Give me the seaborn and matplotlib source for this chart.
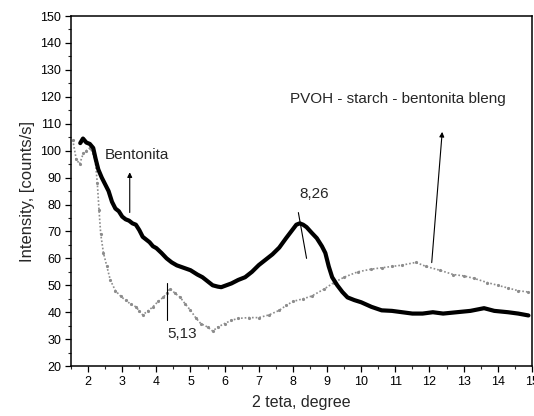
import numpy as np
import pandas as pd
import matplotlib
matplotlib.use('Agg')
import matplotlib.pyplot as plt
from matplotlib.ticker import MultipleLocator
import seaborn as sns

# ── data ─────────────────────────────────────────────────────
bent_x = [1.77, 1.85, 1.95, 2.05, 2.15, 2.22, 2.3, 2.4, 2.5, 2.6, 2.7, 2.8, 2.9,
          3.0, 3.1, 3.2, 3.3, 3.4, 3.5, 3.6, 3.7, 3.8, 3.9, 4.0, 4.15, 4.3, 4.45,
          4.6, 4.8, 5.0, 5.2, 5.35, 5.5, 5.65, 5.8, 5.9, 6.05, 6.2, 6.4, 6.6,
          6.8, 7.0, 7.2, 7.4, 7.6, 7.8, 7.95, 8.1, 8.2, 8.3, 8.4, 8.55, 8.7,
          8.85, 8.95, 9.05, 9.15, 9.3, 9.45, 9.6, 9.8, 10.0, 10.3, 10.6, 10.9,
          11.2, 11.5, 11.8, 12.1, 12.4, 12.8, 13.2, 13.6, 13.9, 14.3, 14.6, 14.9]
bent_y = [102.8, 104.5, 103.0, 102.5, 101.0, 97.0, 93.0, 90.0, 87.5, 85.0, 81.0,
          78.5, 77.5, 75.5, 74.5, 74.0, 73.0, 72.5, 70.5, 68.0, 67.0, 66.0, 64.5,
          63.8, 62.0, 60.0, 58.5, 57.4, 56.5, 55.6, 54.0, 53.0, 51.5, 50.0, 49.5,
          49.3, 50.0, 50.7, 52.0, 53.0, 55.0, 57.5, 59.5, 61.5, 64.0, 67.5, 70.0,
          72.5, 73.0, 72.5, 71.6, 69.5, 67.5, 64.5, 62.0, 57.0, 53.0, 50.0, 47.5,
          45.5, 44.5, 43.7, 42.0, 40.7, 40.5, 40.0, 39.5, 39.5, 40.0, 39.5, 40.0,
          40.5, 41.5, 40.5, 40.0, 39.5, 38.8]

blend_x = [1.55, 1.65, 1.75, 1.86, 1.95, 2.05, 2.15, 2.22, 2.27, 2.32, 2.37, 2.45,
           2.55, 2.65, 2.8, 2.95, 3.1, 3.25, 3.4, 3.5, 3.6, 3.75, 3.9, 4.05, 4.2,
           4.3, 4.4, 4.55, 4.7, 4.85, 5.0, 5.15, 5.3, 5.5, 5.65, 5.8, 6.0, 6.2,
           6.4, 6.7, 7.0, 7.3, 7.6, 7.8, 8.0, 8.3, 8.55, 8.9, 9.2, 9.5, 9.9,
           10.3, 10.6, 10.9, 11.2, 11.6, 11.9, 12.3, 12.7, 13.0, 13.3, 13.7,
           14.0, 14.3, 14.6, 14.9]
blend_y = [104.0, 97.0, 95.0, 99.0, 100.0, 101.0, 99.0, 95.0, 88.0, 78.0, 69.0,
           62.0, 57.0, 52.0, 48.0, 46.0, 44.4, 43.0, 42.0, 40.5, 39.0, 40.5, 42.0,
           44.0, 45.5, 47.0, 48.8, 47.0, 45.5, 43.0, 40.7, 38.0, 35.8, 34.5, 33.0,
           34.5, 35.8, 37.0, 37.7, 38.0, 38.0, 39.0, 40.7, 42.5, 44.0, 45.0, 46.0,
           48.5, 51.0, 53.0, 55.0, 56.0, 56.5, 57.0, 57.5, 58.5, 57.0, 55.6, 54.0,
           53.5, 52.6, 51.0, 50.0, 49.0, 48.0, 47.5]

sns.set_style('ticks')
plt.rcParams['font.family'] = ['Liberation Sans', 'DejaVu Sans']

fig = plt.figure(figsize=(5.34, 4.16), dpi=100)
ax = fig.add_axes([0.133, 0.120, 0.863, 0.8415])

df_bent = pd.DataFrame({'x': bent_x, 'y': bent_y})
df_blend = pd.DataFrame({'x': blend_x, 'y': blend_y})

sns.lineplot(data=df_blend, x='x', y='y', ax=ax, color='#8c8c8c', lw=1.2,
             linestyle=(0, (1, 1.2)), marker='.', markersize=3, mec='#8c8c8c',
             sort=False, estimator=None)
sns.lineplot(data=df_bent, x='x', y='y', ax=ax, color='black', lw=3.0,
             sort=False, estimator=None)

ax.set_xlim(1.5, 15)
ax.set_ylim(20, 150)
ax.xaxis.set_major_locator(MultipleLocator(1))
ax.xaxis.set_minor_locator(MultipleLocator(0.5))
ax.yaxis.set_major_locator(MultipleLocator(10))
ax.yaxis.set_minor_locator(MultipleLocator(5))
ax.set_xticks(range(2, 16))
ax.tick_params(which='major', direction='out', length=4, width=0.9,
               labelsize=9, colors='black', pad=3)
ax.tick_params(which='minor', direction='out', length=2.5, width=0.8)
for s in ax.spines.values():
    s.set_visible(True)
    s.set_linewidth(1.1)
    s.set_color('black')

ax.set_xlabel('2 teta, degree', fontsize=11.5, labelpad=5)
ax.set_ylabel('Intensity, [counts/s]', fontsize=12, labelpad=4)

# ── annotations ──────────────────────────────────────────────
ax.text(2.5, 98.5, 'Bentonita', fontsize=11, va='center', ha='left')
ax.annotate('', xy=(3.22, 93), xytext=(3.22, 76),
            arrowprops=dict(arrowstyle='-|>', color='black', lw=0.8,
                            mutation_scale=7))
ax.text(8.63, 84, '8,26', fontsize=11, va='center', ha='center')
ax.plot([8.16, 8.4], [77, 60], color='black', lw=0.8)
ax.text(11.07, 119, 'PVOH - starch - bentonita bleng', fontsize=11,
        va='center', ha='center')
ax.annotate('', xy=(12.38, 108), xytext=(12.06, 57.4),
            arrowprops=dict(arrowstyle='-|>', color='black', lw=0.8,
                            mutation_scale=7))
ax.text(4.77, 32, '5,13', fontsize=11, va='center', ha='center')
ax.plot([4.3, 4.3], [51, 37], color='black', lw=0.8)

plt.savefig('out.png', dpi=100)
